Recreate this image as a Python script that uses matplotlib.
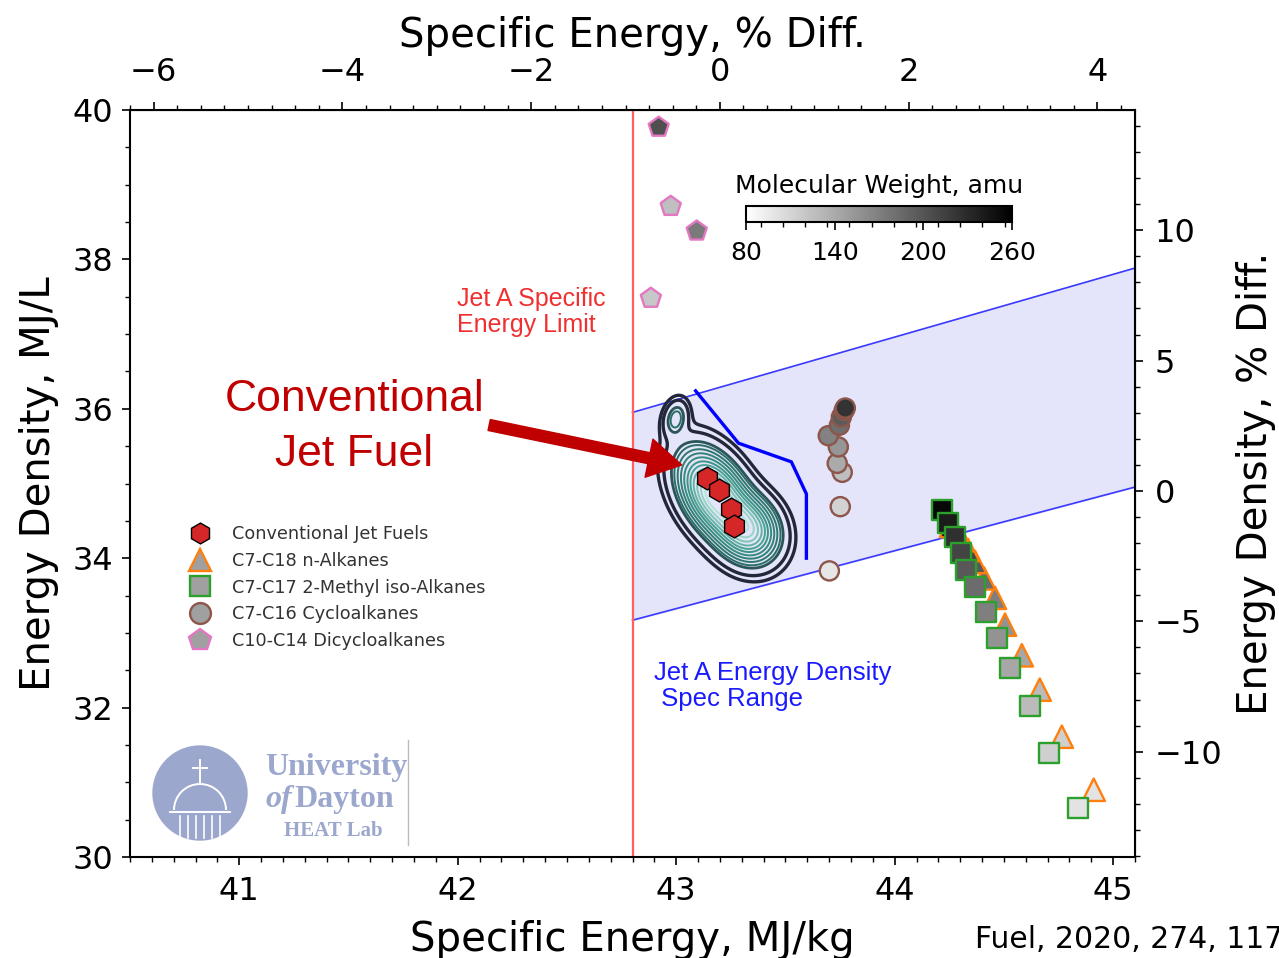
import numpy as np
import matplotlib
matplotlib.use('Agg')
import matplotlib.pyplot as plt
from matplotlib.lines import Line2D
from matplotlib.patches import Circle, Arc
from matplotlib.colors import Normalize, LinearSegmentedColormap
from matplotlib.cm import ScalarMappable
from matplotlib.ticker import MultipleLocator, FixedLocator

# --- values ---
se_limit = 42.8              # Jet A specific energy limit, MJ/kg
dens_limits = [0.775, 0.840]  # Jet A density range, kg/L
band_se = [42.8, 45.1]
se_ref = 43.2                # reference for the % diff axes
ed_ref = 34.9
top_ticks = [-6, -4, -2, 0, 2, 4]
right_ticks = [-10, -5, 0, 5, 10]

jet_se = [43.139, 43.194, 43.249, 43.263]
jet_ed = [35.07, 34.91, 34.66, 34.43]

nalk_se = [44.911, 44.765, 44.664, 44.582, 44.505, 44.459, 44.409, 44.368, 44.336, 44.308, 44.281, 44.258]
nalk_ed = [30.90, 31.61, 32.24, 32.70, 33.11, 33.47, 33.73, 33.95, 34.11, 34.24, 34.34, 34.43]
nalk_mw = [100, 114, 128, 142, 156, 170, 184, 198, 212, 226, 240, 254]

iso_se = [44.838, 44.705, 44.619, 44.527, 44.468, 44.418, 44.368, 44.326, 44.304, 44.276, 44.244, 44.217]
iso_ed = [30.656, 31.392, 32.021, 32.530, 32.932, 33.280, 33.614, 33.842, 34.070, 34.284, 34.471, 34.645]
iso_mw = [100, 114, 128, 142, 156, 170, 184, 198, 212, 226, 240, 254]

cyc_se = [43.701, 43.751, 43.760, 43.737, 43.742, 43.696, 43.747, 43.756, 43.769, 43.774]
cyc_ed = [33.83, 34.69, 35.15, 35.27, 35.49, 35.64, 35.78, 35.89, 35.98, 36.01]
cyc_mw = [98, 112, 126, 140, 154, 168, 182, 196, 210, 224]

dicyc_se = [42.884, 42.975, 43.094, 42.920]
dicyc_ed = [37.48, 38.71, 38.38, 39.77]
dicyc_mw = [120, 125, 174, 204]

# blue boundary line
spec_se = [43.089, 43.285, 43.527, 43.596, 43.596]
spec_ed = [36.24, 35.54, 35.29, 34.86, 34.00]

# kde of conventional fuels, as gaussian components (main body, lower lobe, top island)
kde_cx = [43.176, 43.331, 42.998]
kde_cy = [34.846, 34.378, 35.87]
kde_sx = [0.0941, 0.0816, 0.034]
kde_sy = [0.3407, 0.2573, 0.15]
kde_rho = [-0.420, -0.144, 0.2]
kde_w = [1.0, 0.5, 0.03]
kde_levels = [0.02, 0.045, 0.105, 0.14, 0.19, 0.25, 0.32, 0.40, 0.48, 0.57, 0.67, 0.77, 0.87]

W, H = 1279, 958
fig = plt.figure(figsize=(W / 100, H / 100), dpi=100)
ax = fig.add_axes([130 / W, 1 - 857 / H, 1005 / W, 747 / H])

mw_norm = Normalize(80, 260)
cmap = plt.get_cmap('gray_r')

# spec band
x = np.array(band_se)
ax.fill_between(x, dens_limits[0] * x, dens_limits[1] * x, color='#e4e4fb', zorder=0)
ax.plot(x, dens_limits[0] * x, color='#3a3aff', lw=1.2, zorder=1)
ax.plot(x, dens_limits[1] * x, color='#3a3aff', lw=1.2, zorder=1)
ax.axvline(se_limit, color='#ff6060', lw=1.6, zorder=1)
ax.plot(spec_se, spec_ed, color='#0000ff', lw=2.4, zorder=2)

# contours
gx, gy = np.meshgrid(np.linspace(42.82, 43.7, 500), np.linspace(33.2, 36.6, 500))
dens = np.zeros_like(gx)
for cx, cy, sx, sy, r, w in zip(kde_cx, kde_cy, kde_sx, kde_sy, kde_rho, kde_w):
    dx = (gx - cx) / sx
    dy = (gy - cy) / sy
    dens += w * np.exp(-(dx**2 - 2 * r * dx * dy + dy**2) / (2 * (1 - r**2))) / (sx * sy * np.sqrt(1 - r**2))
dens /= dens.max()
kcmap = LinearSegmentedColormap.from_list('k', ['#2a6e66', '#3c9a88', '#b0e6d6'])
kcols = ['#23273a', '#23273a', '#2b5556'] + [kcmap(v) for v in np.linspace(0, 1, len(kde_levels) - 3)]
kwid = [2.4, 2.4, 2.0] + [1.4] * (len(kde_levels) - 3)
ax.contour(gx, gy, dens, levels=kde_levels, colors=kcols, linewidths=kwid, zorder=3)

# points
ax.scatter(nalk_se, nalk_ed, c=nalk_mw, cmap=cmap, norm=mw_norm, marker='^', s=260,
           edgecolors='#ff7f0e', linewidths=1.7, zorder=4)
ax.scatter(iso_se[::-1], iso_ed[::-1], c=iso_mw[::-1], cmap=cmap, norm=mw_norm, marker='s', s=200,
           edgecolors='#2ca02c', linewidths=1.7, zorder=5)
ax.scatter(cyc_se, cyc_ed, c=cyc_mw, cmap=cmap, norm=mw_norm, marker='o', s=190,
           edgecolors='#8c564b', linewidths=1.7, zorder=4)
ax.scatter(dicyc_se, dicyc_ed, c=dicyc_mw, cmap=cmap, norm=mw_norm, marker='p', s=230,
           edgecolors='#e377c2', linewidths=1.7, zorder=4)
ax.scatter(jet_se, jet_ed, color='#d62728', marker='h', s=270, edgecolors='black', linewidths=1.0, zorder=6)

ax.set_xlim(40.5, 45.1)
ax.set_ylim(30, 40)
ax.xaxis.set_major_locator(MultipleLocator(1))
ax.xaxis.set_minor_locator(MultipleLocator(0.1))
ax.yaxis.set_major_locator(MultipleLocator(2))
ax.yaxis.set_minor_locator(MultipleLocator(0.5))
ax.tick_params(which='major', length=6, width=1.2, labelsize=23)
ax.tick_params(which='minor', length=3.5, width=1.0)
ax.tick_params(axis='x', pad=8)
ax.tick_params(axis='y', pad=6)
ax.set_xlabel('Specific Energy, MJ/kg', fontsize=29, labelpad=9)
ax.set_ylabel('Energy Density, MJ/L', fontsize=29, labelpad=10)
for sp in ax.spines.values():
    sp.set_linewidth(1.5)

top = ax.secondary_xaxis('top', functions=(lambda v: (v / se_ref - 1) * 100,
                                           lambda p: se_ref * (1 + p / 100)))
top.xaxis.set_major_locator(FixedLocator(top_ticks))
top.xaxis.set_minor_locator(MultipleLocator(0.25))
top.tick_params(which='major', length=6, width=1.2, labelsize=23, pad=9.5)
top.tick_params(which='minor', length=3.5, width=1.0)
top.set_xlabel('Specific Energy, % Diff.', fontsize=29, labelpad=7.5)

right = ax.secondary_yaxis('right', functions=(lambda v: (v / ed_ref - 1) * 100,
                                               lambda p: ed_ref * (1 + p / 100)))
right.yaxis.set_major_locator(FixedLocator(right_ticks))
right.yaxis.set_minor_locator(MultipleLocator(1))
right.tick_params(which='major', length=6, width=1.2, labelsize=23, pad=8)
right.tick_params(which='minor', length=3.5, width=1.0)
right.set_ylabel('Energy Density, % Diff.', fontsize=29, labelpad=10)

# annotations
ax.text(41.527, 35.76, 'Conventional\nJet Fuel', color='#c00000', fontsize=32,
        family='Liberation Sans', ha='center', va='center', linespacing=1.45, zorder=7)
ax.annotate('', xy=(43.025, 35.248), xytext=(42.144, 35.783),
            arrowprops=dict(facecolor='#c00000', edgecolor='#c00000', width=8,
                            headwidth=28, headlength=24, shrink=0), zorder=7)
ax.text(41.998, 37.30, 'Jet A Specific\nEnergy Limit', color='#f03030', fontsize=18,
        family='Liberation Sans', ha='left', va='center', linespacing=1.12)
ax.text(42.897, 32.29, 'Jet A Energy Density\n Spec Range', color='#1a1aff', fontsize=18.5,
        family='Liberation Sans', ha='left', va='center', linespacing=1.1)

# legend
gray = '#a0a0a0'
handles = [
    Line2D([], [], ls='none', marker='h', ms=15, mfc='#d62728', mec='black', mew=1.0),
    Line2D([], [], ls='none', marker='^', ms=16, mfc=gray, mec='#ff7f0e', mew=1.7),
    Line2D([], [], ls='none', marker='s', ms=14, mfc=gray, mec='#2ca02c', mew=1.7),
    Line2D([], [], ls='none', marker='o', ms=15, mfc=gray, mec='#8c564b', mew=1.7),
    Line2D([], [], ls='none', marker='p', ms=16, mfc=gray, mec='#e377c2', mew=1.7),
]
labels = ['Conventional Jet Fuels', 'C7-C18 n-Alkanes', 'C7-C17 2-Methyl iso-Alkanes',
          'C7-C16 Cycloalkanes', 'C10-C14 Dicycloalkanes']
leg = ax.legend(handles, labels, loc='upper left', bbox_to_anchor=(0.047, 0.461), frameon=False,
                fontsize=12.7, labelspacing=0.5, handlelength=1.2, handletextpad=1.2, borderpad=0.2)
for t in leg.get_texts():
    t.set_color('#333333')

# colorbar inset
cax = fig.add_axes([746 / W, 1 - 222 / H, 266 / W, 16 / H])
cb = fig.colorbar(ScalarMappable(norm=mw_norm, cmap=cmap), cax=cax, orientation='horizontal')
cb.set_ticks([80, 140, 200, 260])
cax.xaxis.set_minor_locator(MultipleLocator(15))
cax.tick_params(which='major', length=6, width=1.2, labelsize=18, pad=8)
cax.tick_params(which='minor', length=3.5, width=1.0)
cb.outline.set_linewidth(1.5)
cb.set_label('Molecular Weight, amu', fontsize=18, labelpad=9)
cax.xaxis.set_label_position('top')

# logo
lax = fig.add_axes([140 / W, 1 - 852 / H, 280 / W, 115 / H])
lax.set_xlim(0, 280)
lax.set_ylim(0, 115)
lax.axis('off')
logo_c = '#9ca7cd'
lax.add_patch(Circle((60, 59), 47, color=logo_c))
lax.add_patch(Arc((60, 42), 52, 52, theta1=0, theta2=180, color='white', lw=1.4))
lax.plot([60, 60], [68, 92], color='white', lw=1.4)
lax.plot([53, 67], [84, 84], color='white', lw=1.4)
for xc in [40, 48, 56, 64, 72, 80]:
    lax.plot([xc, xc], [14, 36], color='white', lw=1.2)
lax.plot([30, 90], [40, 40], color='white', lw=1.4)
lax.text(125, 84, 'University', color=logo_c, fontsize=23, family='Liberation Serif',
         weight='bold', ha='left', va='center')
lax.text(125, 52, 'of', color=logo_c, fontsize=23, family='Liberation Serif',
         weight='bold', style='italic', ha='left', va='center')
lax.text(154, 52, 'Dayton', color=logo_c, fontsize=23, family='Liberation Serif',
         weight='bold', ha='left', va='center')
lax.text(193, 21, 'HEAT Lab', color=logo_c, fontsize=15, family='Liberation Serif',
         weight='bold', ha='center', va='center')
lax.plot([268, 268], [7, 112], color='#bbbbbb', lw=1)

fig.text(975 / W, 1 - 940 / H, 'Fuel, 2020, 274, 117786', fontsize=21.5,
         family='DejaVu Sans', ha='left', va='center')

fig.savefig('out.png', dpi=100)
